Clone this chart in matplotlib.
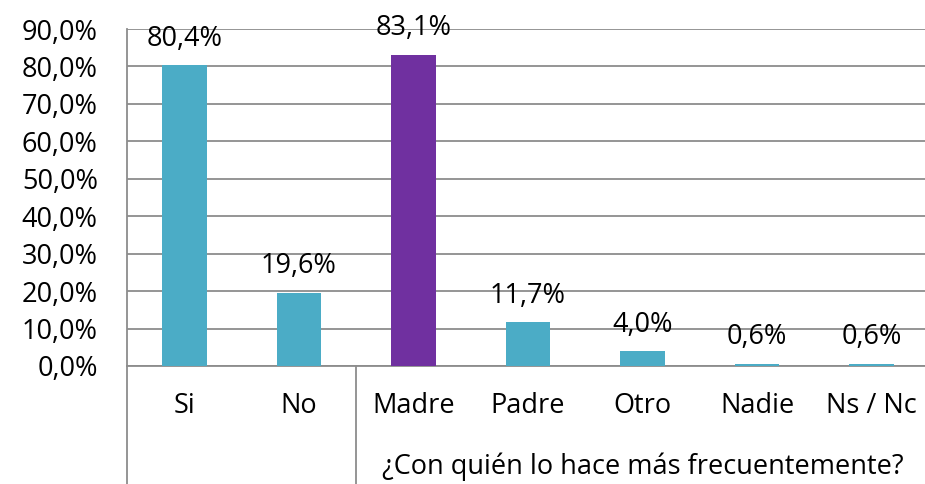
import matplotlib.pyplot as plt
from matplotlib.ticker import FuncFormatter
from matplotlib.transforms import blended_transform_factory

categories = ['Si', 'No', 'Madre', 'Padre', 'Otro', 'Nadie', 'Ns / Nc']
values = [80.4, 19.6, 83.1, 11.7, 4.0, 0.6, 0.6]
colors = ['#4BACC6', '#4BACC6', '#7030A0', '#4BACC6', '#4BACC6', '#4BACC6', '#4BACC6']
group_label = '¿Con quién lo hace más frecuentemente?'
y_ticks = [0, 10, 20, 30, 40, 50, 60, 70, 80, 90]

plt.rcParams['font.family'] = ['Open Sans', 'DejaVu Sans']
grid_color = '#8c8c8c'
fs = 19.5

fig = plt.figure(figsize=(9.25, 4.84), dpi=100)
ax = fig.add_axes([127 / 925, 1 - 366 / 484, 802 / 925, 337 / 484])

x = list(range(len(categories)))
ax.bar(x, values, width=0.39, color=colors, zorder=3)

# Data labels above bars
for xi, v in zip(x, values):
    ax.annotate(f'{v:.1f}%'.replace('.', ','), (xi, v), xytext=(0, 14),
                textcoords='offset points', ha='center', va='baseline',
                fontsize=fs, zorder=4)

ax.set_xlim(-0.5, len(categories) - 0.5)
ax.set_ylim(0, 90)
ax.set_yticks(y_ticks)
ax.yaxis.set_major_formatter(FuncFormatter(lambda v, p: f'{v:.1f}%'.replace('.', ',')))
ax.tick_params(axis='y', length=0, labelsize=fs, pad=21)
ax.set_xticks([])
ax.grid(axis='y', color=grid_color, linewidth=1.3, zorder=0)

for side in ['top', 'right']:
    ax.spines[side].set_visible(False)
for side in ['left', 'bottom']:
    ax.spines[side].set_color(grid_color)
    ax.spines[side].set_linewidth(1.3)

# Category labels and group label under the axis
trans = blended_transform_factory(ax.transData, ax.transAxes)
for xi, c in zip(x, categories):
    ax.text(xi, -0.12, c, transform=trans, ha='center', va='center', fontsize=fs)
ax.text(4, -0.30, group_label, transform=trans, ha='center', va='center', fontsize=fs)

# Group separator lines
bottom = -118 / 337
for xb in [-0.5, 1.5]:
    ax.plot([xb, xb], [0, bottom], transform=trans, color=grid_color,
            linewidth=1.3, clip_on=False)

fig.savefig('out.png', dpi=100)
